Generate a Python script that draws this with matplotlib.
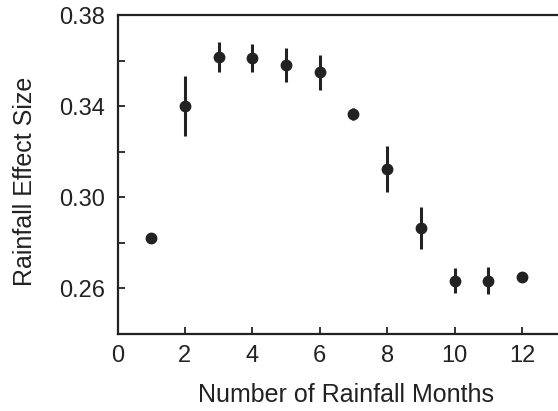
import matplotlib
matplotlib.use("Agg")
import matplotlib.pyplot as plt
from matplotlib.ticker import MultipleLocator

months = [1, 2, 3, 4, 5, 6, 7, 8, 9, 10, 11, 12]
effect = [0.2821, 0.3400, 0.3615, 0.3612, 0.3580, 0.3549, 0.3365, 0.3123, 0.2867, 0.2634, 0.2634, 0.2651]
err = [0.0, 0.0133, 0.0066, 0.0060, 0.0073, 0.0076, 0.0026, 0.0101, 0.0092, 0.0055, 0.0060, 0.0]

plt.rcParams['font.family'] = ['Liberation Sans', 'DejaVu Sans']

fig = plt.figure(figsize=(5.58, 4.11), dpi=100)
ax = fig.add_axes([0.2106, 0.1873, 1 - 0.2106, 0.7762])

col = '#222222'
ax.errorbar(months, effect, yerr=err, fmt='o', color=col, ecolor=col,
            markersize=7.5, elinewidth=2.2, capsize=0)

ax.set_xlim(0, 13.07)
ax.set_ylim(0.24, 0.38)
ax.set_xticks([0, 2, 4, 6, 8, 10, 12])
ax.set_yticks([0.26, 0.30, 0.34, 0.38])
ax.set_yticklabels(['0.26', '0.30', '0.34', '0.38'])
ax.yaxis.set_minor_locator(MultipleLocator(0.02))
ax.tick_params(axis='both', which='both', direction='in', length=5, width=1.3,
               labelsize=17, colors=col)
ax.tick_params(axis='x', pad=8)
ax.tick_params(axis='y', pad=9)

for s in ['left', 'bottom', 'top']:
    ax.spines[s].set_linewidth(1.6)
    ax.spines[s].set_color(col)
ax.spines['right'].set_visible(False)

ax.set_xlabel('Number of Rainfall Months', fontsize=18, color=col, va='center')
ax.set_ylabel('Rainfall Effect Size', fontsize=18, color=col, va='center')
ax.xaxis.set_label_coords(0.519, -0.192)
ax.yaxis.set_label_coords(-0.209, 0.48)

fig.savefig('out.png', dpi=100)
